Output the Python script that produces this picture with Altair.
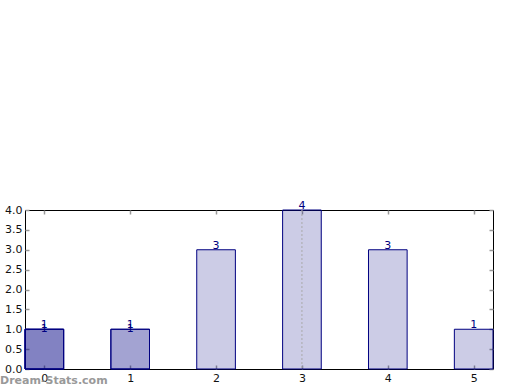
import altair as alt
import pandas as pd

# bars (overlapping series drawn on top of each other)
bar_x = [0, 0, 0, 1, 1, 2, 3, 4, 5]
bar_h = [1, 1, 1, 1, 1, 3, 4, 3, 1]
bar_layer = [0, 1, 2, 0, 1, 0, 0, 0, 0]
x_ticks = [0, 1, 2, 3, 4, 5]
y_ticks = [0, 0.5, 1.0, 1.5, 2.0, 2.5, 3.0, 3.5, 4.0]
median_x = [3]
watermark = "Dream-Stats.com"

bars = pd.DataFrame({"x": bar_x, "h": bar_h, "layer": bar_layer})
half = 0.225

xs = alt.Scale(domain=[-half, 5 + half], nice=False, zero=False)
ys = alt.Scale(domain=[0, 4], nice=False)

NAVY = "#000080"
TICK = "#999999"
FONT = "DejaVu Sans"

base = alt.Chart(bars).transform_calculate(x0=f"datum.x - {half}", x1=f"datum.x + {half}")

rects = base.mark_rect(fill=NAVY, fillOpacity=0.2, stroke=NAVY, strokeWidth=1).encode(
    x=alt.X("x0:Q", scale=xs, axis=alt.Axis(values=x_ticks, orient="bottom", format="d",
                                           offset=-4, tickSize=4, tickColor=TICK, tickWidth=1.5,
                                           labelPadding=3, domain=False, grid=False, title=None,
                                           labelFont=FONT, labelFontSize=11, labelColor="#111")),
    x2="x1:Q",
    y=alt.Y("h:Q", scale=ys, axis=alt.Axis(values=y_ticks, orient="left", format=".1f",
                                           offset=-4, tickSize=4, tickColor=TICK, tickWidth=1.5,
                                           labelPadding=3, domain=False, grid=False, title=None,
                                           labelFont=FONT, labelFontSize=11, labelColor="#111")),
    y2=alt.datum(0),
)

labels1 = base.transform_filter("datum.layer == 0").mark_text(
    color=NAVY, font=FONT, fontSize=11, baseline="bottom", dy=1).encode(
    x=alt.X("x:Q", scale=xs, axis=None), y=alt.Y("h:Q", scale=ys, axis=None),
    text=alt.Text("h:Q", format="d"))
labels2 = base.transform_filter("datum.layer == 1").mark_text(
    color=NAVY, font=FONT, fontSize=11, baseline="bottom", dy=5).encode(
    x=alt.X("x:Q", scale=xs, axis=None), y=alt.Y("h:Q", scale=ys, axis=None),
    text=alt.Text("h:Q", format="d"))

rule = alt.Chart(pd.DataFrame({"m": median_x})).mark_rule(
    color="#aaaaaa", strokeDash=[2, 2], strokeWidth=1).encode(
    x=alt.X("m:Q", scale=xs, axis=None))

top_ax = alt.Chart(pd.DataFrame({"t": x_ticks})).mark_point(opacity=0).encode(
    x=alt.X("t:Q", scale=xs, axis=alt.Axis(values=x_ticks, orient="top", offset=-4, tickSize=4,
                                          tickColor=TICK, tickWidth=1.5, labels=False,
                                          domain=False, grid=False, title=None)),
    y=alt.Y("t:Q", scale=ys, axis=alt.Axis(values=y_ticks, orient="right", offset=-4, tickSize=4,
                                          tickColor=TICK, tickWidth=1.5, labels=False,
                                          domain=False, grid=False, title=None)),
)

wm = alt.Chart(pd.DataFrame({"w": [watermark]})).mark_text(
    font=FONT, fontSize=11, fontWeight="bold", color="#888888", opacity=0.85,
    align="left", baseline="middle").encode(
    x=alt.value(-25), y=alt.value(171), text="w:N")

chart = alt.layer(rects, rule, labels1, labels2, top_ax, wm).resolve_axis(
    x="independent", y="independent"
).properties(
    width=468, height=159,
    autosize=alt.AutoSizeParams(type="none"),
    padding={"left": 25, "top": 210, "right": 27, "bottom": 21},
    background="white",
).configure_view(stroke="#000000", strokeWidth=1, strokeOpacity=1)

chart.save("out.html", embed_options={"renderer": "svg", "actions": False})
